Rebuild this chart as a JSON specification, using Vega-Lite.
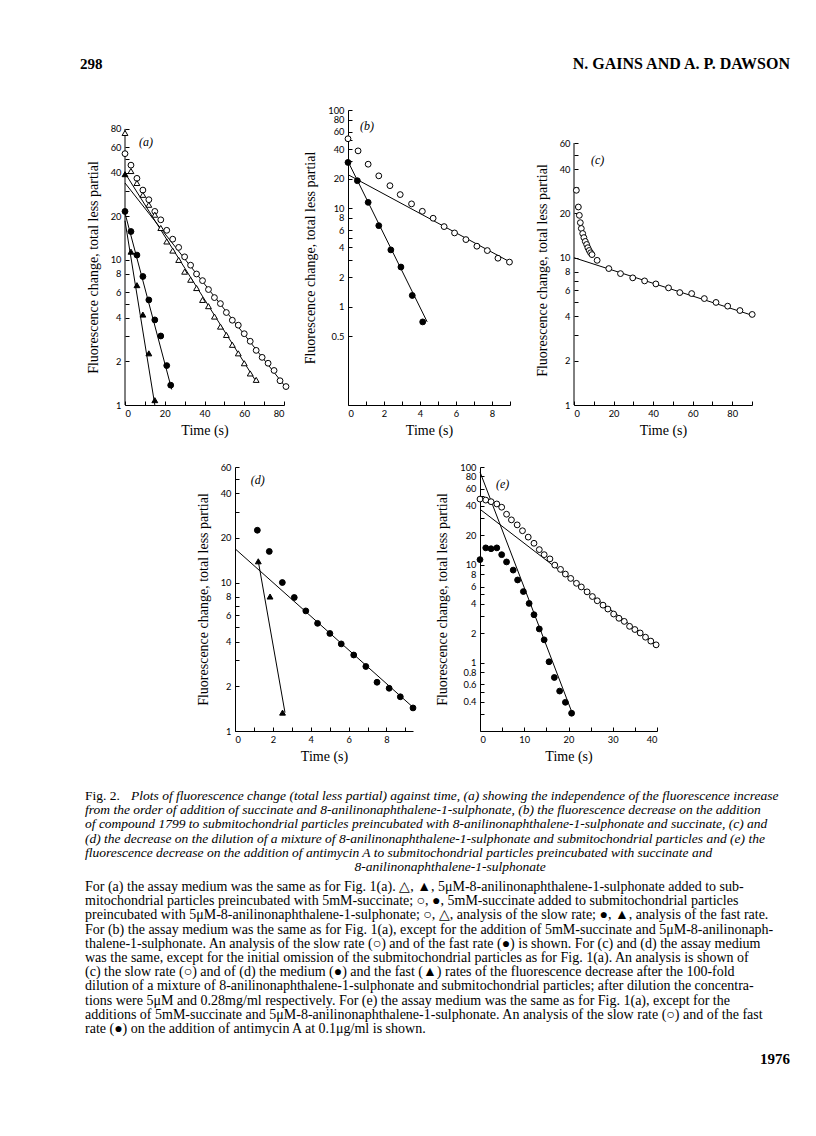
{
  "$schema": "https://vega.github.io/schema/vega-lite/v6.json",
  "background": "white",
  "padding": {"left": 80, "top": 46, "right": 10, "bottom": 10},
  "spacing": 25,
  "config": {
    "view": {"stroke": null},
    "axis": {
      "grid": false,
      "domainColor": "black",
      "domainWidth": 1,
      "tickColor": "black",
      "tickWidth": 1,
      "tickSize": -4,
      "labelPadding": 8,
      "labelOverlap": false,
      "labelColor": "black",
      "labelFont": "Lato",
      "labelFontSize": 9.3,
      "titleColor": "black",
      "titleFont": "Liberation Serif",
      "titleFontSize": 14,
      "titleFontWeight": "normal"
    },
    "axisX": {"titlePadding": 5},
    "axisY": {"titlePadding": 10}
  },
  "datasets": {
    "header_left": [{"text": "298"}],
    "header_right": [{"text": "N. GAINS AND A. P. DAWSON"}],
    "a_axis": [{"t": 0, "f": 1, "f2": 80}],
    "a_lab": [{"t": 7, "f": 65, "label": "(a)"}],
    "a_fit": [
      {"fit": "slow circle", "t": 0, "f": 33.9}, {"fit": "slow circle", "t": 81, "f": 1.32},
      {"fit": "slow triangle", "t": 0, "f": 39.7}, {"fit": "slow triangle", "t": 66, "f": 1.45},
      {"fit": "fast circle", "t": 0, "f": 21}, {"fit": "fast circle", "t": 23.5, "f": 1.28},
      {"fit": "fast triangle", "t": 0, "f": 18.6}, {"fit": "fast triangle", "t": 15, "f": 1.0}
    ],
    "a_pts": [
      {"sym": "open circle", "t": 0, "f": 54}, {"sym": "open circle", "t": 3, "f": 45}, {"sym": "open circle", "t": 6, "f": 36.5},
      {"sym": "open circle", "t": 9, "f": 30.3}, {"sym": "open circle", "t": 12, "f": 26}, {"sym": "open circle", "t": 15, "f": 21.6},
      {"sym": "open circle", "t": 18, "f": 18.9}, {"sym": "open circle", "t": 21, "f": 16}, {"sym": "open circle", "t": 24, "f": 13.9},
      {"sym": "open circle", "t": 27, "f": 12.2}, {"sym": "open circle", "t": 30, "f": 10.5}, {"sym": "open circle", "t": 33, "f": 9.2},
      {"sym": "open circle", "t": 36, "f": 8}, {"sym": "open circle", "t": 39, "f": 7.2}, {"sym": "open circle", "t": 42, "f": 6.25},
      {"sym": "open circle", "t": 45, "f": 5.5}, {"sym": "open circle", "t": 48, "f": 5.0}, {"sym": "open circle", "t": 51, "f": 4.34},
      {"sym": "open circle", "t": 54, "f": 3.84}, {"sym": "open circle", "t": 57, "f": 3.55}, {"sym": "open circle", "t": 60, "f": 3.1},
      {"sym": "open circle", "t": 63, "f": 2.75}, {"sym": "open circle", "t": 66, "f": 2.38}, {"sym": "open circle", "t": 69, "f": 2.13},
      {"sym": "open circle", "t": 72, "f": 1.94}, {"sym": "open circle", "t": 75, "f": 1.73}, {"sym": "open circle", "t": 78, "f": 1.47},
      {"sym": "open circle", "t": 81, "f": 1.34},
      {"sym": "open triangle", "t": 0, "f": 75}, {"sym": "open triangle", "t": 3, "f": 41}, {"sym": "open triangle", "t": 6, "f": 33.9},
      {"sym": "open triangle", "t": 9, "f": 28.1}, {"sym": "open triangle", "t": 12, "f": 24}, {"sym": "open triangle", "t": 15, "f": 20.5},
      {"sym": "open triangle", "t": 18, "f": 16.6}, {"sym": "open triangle", "t": 21, "f": 13.4}, {"sym": "open triangle", "t": 24, "f": 11.6},
      {"sym": "open triangle", "t": 27, "f": 10}, {"sym": "open triangle", "t": 30, "f": 8.3}, {"sym": "open triangle", "t": 33, "f": 7.3},
      {"sym": "open triangle", "t": 36, "f": 6.4}, {"sym": "open triangle", "t": 39, "f": 5.3}, {"sym": "open triangle", "t": 42, "f": 4.8},
      {"sym": "open triangle", "t": 45, "f": 4.07}, {"sym": "open triangle", "t": 48, "f": 3.47}, {"sym": "open triangle", "t": 51, "f": 3.04},
      {"sym": "open triangle", "t": 54, "f": 2.6}, {"sym": "open triangle", "t": 57, "f": 2.27}, {"sym": "open triangle", "t": 60, "f": 1.94},
      {"sym": "open triangle", "t": 63, "f": 1.65}, {"sym": "open triangle", "t": 66, "f": 1.49},
      {"sym": "filled circle", "t": 0, "f": 21.6}, {"sym": "filled circle", "t": 3, "f": 15.7}, {"sym": "filled circle", "t": 6, "f": 10.8},
      {"sym": "filled circle", "t": 9, "f": 7.69}, {"sym": "filled circle", "t": 12, "f": 5.3}, {"sym": "filled circle", "t": 15, "f": 3.86},
      {"sym": "filled circle", "t": 18, "f": 2.99}, {"sym": "filled circle", "t": 21, "f": 1.87}, {"sym": "filled circle", "t": 23, "f": 1.37},
      {"sym": "filled triangle", "t": 0, "f": 39}, {"sym": "filled triangle", "t": 3, "f": 11.4}, {"sym": "filled triangle", "t": 6, "f": 6.7},
      {"sym": "filled triangle", "t": 9, "f": 4.2}, {"sym": "filled triangle", "t": 12, "f": 2.27}, {"sym": "filled triangle", "t": 15, "f": 1.08}
    ],
    "b_lab": [{"t": 0.67, "f": 68, "label": "(b)"}],
    "b_fit": [
      {"fit": "slow", "t": 0, "f": 22}, {"fit": "slow", "t": 9, "f": 2.85},
      {"fit": "fast", "t": 0, "f": 30}, {"fit": "fast", "t": 4.4, "f": 0.7}
    ],
    "b_pts": [
      {"sym": "open circle", "t": 0, "f": 51}, {"sym": "open circle", "t": 0.56, "f": 38.4}, {"sym": "open circle", "t": 1.12, "f": 28.1},
      {"sym": "open circle", "t": 1.71, "f": 21.4}, {"sym": "open circle", "t": 2.33, "f": 17}, {"sym": "open circle", "t": 2.9, "f": 13.8},
      {"sym": "open circle", "t": 3.53, "f": 11.1}, {"sym": "open circle", "t": 4.13, "f": 9.33}, {"sym": "open circle", "t": 4.73, "f": 7.93},
      {"sym": "open circle", "t": 5.34, "f": 6.52}, {"sym": "open circle", "t": 5.92, "f": 5.62}, {"sym": "open circle", "t": 6.55, "f": 4.81},
      {"sym": "open circle", "t": 7.16, "f": 4.12}, {"sym": "open circle", "t": 7.74, "f": 3.72}, {"sym": "open circle", "t": 8.33, "f": 3.11},
      {"sym": "open circle", "t": 8.97, "f": 2.84},
      {"sym": "filled circle", "t": 0, "f": 29.3}, {"sym": "filled circle", "t": 0.52, "f": 19.1}, {"sym": "filled circle", "t": 1.12, "f": 11.5},
      {"sym": "filled circle", "t": 1.71, "f": 6.67}, {"sym": "filled circle", "t": 2.38, "f": 3.78}, {"sym": "filled circle", "t": 2.94, "f": 2.53},
      {"sym": "filled circle", "t": 3.57, "f": 1.3}, {"sym": "filled circle", "t": 4.15, "f": 0.7}
    ],
    "c_axis": [{"t": 0, "f": 1, "f2": 60}],
    "c_lab": [{"t": 8.6, "f": 45.8, "label": "(c)"}],
    "c_fit": [{"fit": "slow", "t": 0, "f": 10}, {"fit": "slow", "t": 90, "f": 4.07}],
    "c_pts": [
      {"sym": "open circle", "t": 1.2, "f": 28.7}, {"sym": "open circle", "t": 2.2, "f": 22.1}, {"sym": "open circle", "t": 2.7, "f": 19.4},
      {"sym": "open circle", "t": 3.2, "f": 17.3}, {"sym": "open circle", "t": 3.7, "f": 15.8}, {"sym": "open circle", "t": 4.4, "f": 14.6},
      {"sym": "open circle", "t": 5.0, "f": 13.7}, {"sym": "open circle", "t": 5.7, "f": 12.9}, {"sym": "open circle", "t": 6.4, "f": 12.3},
      {"sym": "open circle", "t": 7.0, "f": 11.7}, {"sym": "open circle", "t": 7.7, "f": 11.2}, {"sym": "open circle", "t": 8.4, "f": 10.8},
      {"sym": "open circle", "t": 9.1, "f": 10.5}, {"sym": "open circle", "t": 11.7, "f": 9.6}, {"sym": "open circle", "t": 17.6, "f": 8.44},
      {"sym": "open circle", "t": 23.5, "f": 7.8}, {"sym": "open circle", "t": 29.7, "f": 7.3}, {"sym": "open circle", "t": 35.7, "f": 6.96},
      {"sym": "open circle", "t": 41.4, "f": 6.64}, {"sym": "open circle", "t": 47.8, "f": 6.24}, {"sym": "open circle", "t": 53.5, "f": 5.8},
      {"sym": "open circle", "t": 59.5, "f": 5.71}, {"sym": "open circle", "t": 65.9, "f": 5.28}, {"sym": "open circle", "t": 71.8, "f": 4.97},
      {"sym": "open circle", "t": 77.7, "f": 4.69}, {"sym": "open circle", "t": 83.9, "f": 4.38}, {"sym": "open circle", "t": 90.1, "f": 4.12}
    ],
    "d_lab": [{"t": 0.83, "f": 49, "label": "(d)"}],
    "d_fit": [
      {"fit": "medium", "t": 0, "f": 16.9}, {"fit": "medium", "t": 9.44, "f": 1.43},
      {"fit": "fast", "t": 1.23, "f": 13.9}, {"fit": "fast", "t": 2.64, "f": 1.33}
    ],
    "d_pts": [
      {"sym": "filled circle", "t": 1.18, "f": 22.5}, {"sym": "filled circle", "t": 1.81, "f": 16.2}, {"sym": "filled circle", "t": 2.5, "f": 10.0},
      {"sym": "filled circle", "t": 3.13, "f": 7.93}, {"sym": "filled circle", "t": 3.74, "f": 6.44}, {"sym": "filled circle", "t": 4.36, "f": 5.31},
      {"sym": "filled circle", "t": 5.01, "f": 4.54}, {"sym": "filled circle", "t": 5.61, "f": 3.86}, {"sym": "filled circle", "t": 6.27, "f": 3.25},
      {"sym": "filled circle", "t": 6.91, "f": 2.72}, {"sym": "filled circle", "t": 7.5, "f": 2.13}, {"sym": "filled circle", "t": 8.14, "f": 1.94},
      {"sym": "filled circle", "t": 8.73, "f": 1.7}, {"sym": "filled circle", "t": 9.4, "f": 1.43},
      {"sym": "filled triangle", "t": 1.23, "f": 13.9}, {"sym": "filled triangle", "t": 1.85, "f": 8.05}, {"sym": "filled triangle", "t": 2.51, "f": 1.33}
    ],
    "e_lab": [{"t": 3.6, "f": 67, "label": "(e)"}],
    "e_fit": [
      {"fit": "slow", "t": 0, "f": 37}, {"fit": "slow", "t": 40, "f": 1.5},
      {"fit": "fast", "t": 0, "f": 89}, {"fit": "fast", "t": 20.9, "f": 0.3}
    ],
    "e_pts": [
      {"sym": "open circle", "t": 0, "f": 47}, {"sym": "open circle", "t": 1.3, "f": 45.9}, {"sym": "open circle", "t": 2.5, "f": 44.2},
      {"sym": "open circle", "t": 3.8, "f": 41.9}, {"sym": "open circle", "t": 4.9, "f": 38.8}, {"sym": "open circle", "t": 6.0, "f": 32.9},
      {"sym": "open circle", "t": 7.1, "f": 28.8}, {"sym": "open circle", "t": 8.4, "f": 25.6}, {"sym": "open circle", "t": 9.6, "f": 22.3},
      {"sym": "open circle", "t": 10.9, "f": 19.2}, {"sym": "open circle", "t": 12.2, "f": 16.6}, {"sym": "open circle", "t": 13.4, "f": 14.3},
      {"sym": "open circle", "t": 14.5, "f": 12.7}, {"sym": "open circle", "t": 15.8, "f": 11.5}, {"sym": "open circle", "t": 16.9, "f": 9.93},
      {"sym": "open circle", "t": 18.2, "f": 8.98}, {"sym": "open circle", "t": 19.3, "f": 8.04}, {"sym": "open circle", "t": 20.5, "f": 7.26},
      {"sym": "open circle", "t": 21.8, "f": 6.47}, {"sym": "open circle", "t": 22.9, "f": 5.94}, {"sym": "open circle", "t": 24.2, "f": 5.29},
      {"sym": "open circle", "t": 25.4, "f": 4.74}, {"sym": "open circle", "t": 26.5, "f": 4.29}, {"sym": "open circle", "t": 27.8, "f": 3.87},
      {"sym": "open circle", "t": 28.9, "f": 3.53}, {"sym": "open circle", "t": 30.2, "f": 3.14}, {"sym": "open circle", "t": 31.4, "f": 2.84},
      {"sym": "open circle", "t": 32.6, "f": 2.64}, {"sym": "open circle", "t": 33.8, "f": 2.35}, {"sym": "open circle", "t": 35.0, "f": 2.18},
      {"sym": "open circle", "t": 36.2, "f": 2.01}, {"sym": "open circle", "t": 37.4, "f": 1.82}, {"sym": "open circle", "t": 38.6, "f": 1.66},
      {"sym": "open circle", "t": 39.8, "f": 1.52},
      {"sym": "filled circle", "t": 0, "f": 11.3}, {"sym": "filled circle", "t": 1.3, "f": 14.9}, {"sym": "filled circle", "t": 2.5, "f": 14.6},
      {"sym": "filled circle", "t": 3.8, "f": 14.9}, {"sym": "filled circle", "t": 4.9, "f": 12.7}, {"sym": "filled circle", "t": 6.0, "f": 10.7},
      {"sym": "filled circle", "t": 7.5, "f": 8.83}, {"sym": "filled circle", "t": 8.5, "f": 7.0}, {"sym": "filled circle", "t": 9.8, "f": 5.33},
      {"sym": "filled circle", "t": 11.1, "f": 4.03}, {"sym": "filled circle", "t": 12.2, "f": 3.09}, {"sym": "filled circle", "t": 13.4, "f": 2.21},
      {"sym": "filled circle", "t": 14.5, "f": 1.71}, {"sym": "filled circle", "t": 15.6, "f": 1.02}, {"sym": "filled circle", "t": 16.8, "f": 0.705},
      {"sym": "filled circle", "t": 18.0, "f": 0.512}, {"sym": "filled circle", "t": 19.3, "f": 0.393}, {"sym": "filled circle", "t": 20.7, "f": 0.304}
    ],
    "caption_fig": [{"line": 0, "text": "Fig. 2."}],
    "caption_first": [{"line": 0, "text": "Plots of fluorescence change (total less partial) against time, (a) showing the independence of the fluorescence increase"}],
    "caption_lines": [
      {"line": 1, "text": "from the order of addition of succinate and 8-anilinonaphthalene-1-sulphonate, (b) the fluorescence decrease on the addition"},
      {"line": 2, "text": "of compound 1799 to submitochondrial particles preincubated with 8-anilinonaphthalene-1-sulphonate and succinate, (c) and"},
      {"line": 3, "text": "(d) the decrease on the dilution of a mixture of 8-anilinonaphthalene-1-sulphonate and submitochondrial particles and (e) the"},
      {"line": 4, "text": "fluorescence decrease on the addition of antimycin A to submitochondrial particles preincubated with succinate and"}
    ],
    "caption_center": [{"line": 5, "text": "8-anilinonaphthalene-1-sulphonate"}],
    "body": [
      {"line": 0, "text": "For (a) the assay medium was the same as for Fig. 1(a). △, ▲, 5μM-8-anilinonaphthalene-1-sulphonate added to sub-"},
      {"line": 1, "text": "mitochondrial particles preincubated with 5mM-succinate; ○, ●, 5mM-succinate added to submitochondrial particles"},
      {"line": 2, "text": "preincubated with 5μM-8-anilinonaphthalene-1-sulphonate; ○, △, analysis of the slow rate; ●, ▲, analysis of the fast rate."},
      {"line": 3, "text": "For (b) the assay medium was the same as for Fig. 1(a), except for the addition of 5mM-succinate and 5μM-8-anilinonaph-"},
      {"line": 4, "text": "thalene-1-sulphonate. An analysis of the slow rate (○) and of the fast rate (●) is shown. For (c) and (d) the assay medium"},
      {"line": 5, "text": "was the same, except for the initial omission of the submitochondrial particles as for Fig. 1(a). An analysis is shown of"},
      {"line": 6, "text": "(c) the slow rate (○) and of (d) the medium (●) and the fast (▲) rates of the fluorescence decrease after the 100-fold"},
      {"line": 7, "text": "dilution of a mixture of 8-anilinonaphthalene-1-sulphonate and submitochondrial particles; after dilution the concentra-"},
      {"line": 8, "text": "tions were 5μM and 0.28mg/ml respectively. For (e) the assay medium was the same as for Fig. 1(a), except for the"},
      {"line": 9, "text": "additions of 5mM-succinate and 5μM-8-anilinonaphthalene-1-sulphonate. An analysis of the slow rate (○) and of the fast"},
      {"line": 10, "text": "rate (●) on the addition of antimycin A at 0.1μg/ml is shown."}
    ],
    "footer": [{"text": "1976"}]
  },
  "vconcat": [
    {
      "width": 665,
      "height": 35,
      "layer": [
        {
          "data": {"name": "header_left"},
          "mark": {"type": "text", "align": "left", "dx": -45, "font": "Liberation Serif", "fontWeight": "bold", "fontSize": 15, "color": "black"},
          "encoding": {
            "x": {"datum": 0, "type": "quantitative", "scale": {"domain": [0, 1]}, "axis": null},
            "text": {"field": "text"}
          }
        },
        {
          "data": {"name": "header_right"},
          "mark": {"type": "text", "align": "right", "font": "Liberation Serif", "fontWeight": "bold", "fontSize": 16, "color": "black"},
          "encoding": {
            "x": {"datum": 1, "type": "quantitative", "scale": {"domain": [0, 1]}, "axis": null},
            "text": {"field": "text"}
          }
        }
      ]
    },
    {
      "hconcat": [
        {
          "width": 159,
          "height": 295,
          "encoding": {
            "x": {"field": "t", "type": "quantitative", "scale": {"domain": [0, 80], "nice": false, "zero": false},
              "axis": {"title": "Time (s)", "values": [0, 10, 20, 30, 40, 50, 60, 70, 80], "labelExpr": "datum.value % 20 == 0 ? datum.label : ''"}},
            "y": {"field": "f", "type": "quantitative", "scale": {"type": "log", "domain": [1, 108], "nice": false},
              "axis": {"title": "Fluorescence change, total less partial", "domain": false, "titleY": 157,
                "values": [1, 2, 3, 4, 5, 6, 8, 10, 20, 30, 40, 50, 60, 80],
                "labelExpr": "indexof([1,2,4,6,8,10,20,40,60,80], datum.value) >= 0 ? format(datum.value, '~g') : ''"}}
          },
          "layer": [
            {"data": {"name": "a_axis"}, "mark": {"type": "rule", "color": "black", "strokeWidth": 1}, "encoding": {"y2": {"field": "f2"}}},
            {"data": {"name": "a_fit"}, "mark": {"type": "line", "color": "black", "strokeWidth": 1}, "encoding": {"detail": {"field": "fit"}}},
            {"data": {"name": "a_pts"}, "mark": {"type": "point", "filled": true, "stroke": "black", "strokeWidth": 1, "size": 34, "opacity": 1},
              "encoding": {
                "shape": {"field": "sym", "type": "nominal", "scale": {"domain": ["open circle", "filled circle", "open triangle", "filled triangle"], "range": ["circle", "circle", "triangle-up", "triangle-up"]}, "legend": null},
                "fill": {"field": "sym", "type": "nominal", "scale": {"domain": ["open circle", "filled circle", "open triangle", "filled triangle"], "range": ["white", "black", "white", "black"]}, "legend": null}
              }},
            {"data": {"name": "a_lab"}, "mark": {"type": "text", "align": "left", "font": "Liberation Serif", "fontStyle": "italic", "fontSize": 12, "color": "black"}, "encoding": {"text": {"field": "label"}}}
          ]
        },
        {
          "width": 162,
          "height": 295,
          "encoding": {
            "x": {"field": "t", "type": "quantitative", "scale": {"domain": [0, 9], "nice": false, "zero": false},
              "axis": {"title": "Time (s)", "values": [0, 1, 2, 3, 4, 5, 6, 7, 8, 9], "labelExpr": "datum.value % 2 == 0 && datum.value < 9 ? datum.label : ''"}},
            "y": {"field": "f", "type": "quantitative", "scale": {"type": "log", "domain": [0.1, 100], "nice": false},
              "axis": {"title": "Fluorescence change, total less partial",
                "values": [0.5, 1, 2, 3, 4, 5, 6, 8, 10, 20, 30, 40, 50, 60, 80, 100],
                "labelExpr": "indexof([0.5,1,2,4,6,8,10,20,40,60,80,100], datum.value) >= 0 ? format(datum.value, '~g') : ''"}}
          },
          "layer": [
            {"data": {"name": "b_fit"}, "mark": {"type": "line", "color": "black", "strokeWidth": 1}, "encoding": {"detail": {"field": "fit"}}},
            {"data": {"name": "b_pts"}, "mark": {"type": "point", "filled": true, "stroke": "black", "strokeWidth": 1, "size": 34, "opacity": 1},
              "encoding": {
                "shape": {"field": "sym", "type": "nominal", "scale": {"domain": ["open circle", "filled circle", "open triangle", "filled triangle"], "range": ["circle", "circle", "triangle-up", "triangle-up"]}, "legend": null},
                "fill": {"field": "sym", "type": "nominal", "scale": {"domain": ["open circle", "filled circle", "open triangle", "filled triangle"], "range": ["white", "black", "white", "black"]}, "legend": null}
              }},
            {"data": {"name": "b_lab"}, "mark": {"type": "text", "align": "left", "font": "Liberation Serif", "fontStyle": "italic", "fontSize": 12, "color": "black"}, "encoding": {"text": {"field": "label"}}}
          ]
        },
        {
          "width": 178,
          "height": 295,
          "encoding": {
            "x": {"field": "t", "type": "quantitative", "scale": {"domain": [0, 90], "nice": false, "zero": false},
              "axis": {"title": "Time (s)", "values": [0, 10, 20, 30, 40, 50, 60, 70, 80, 90], "labelExpr": "datum.value % 20 == 0 ? datum.label : ''"}},
            "y": {"field": "f", "type": "quantitative", "scale": {"type": "log", "domain": [1, 100.7], "nice": false},
              "axis": {"title": "Fluorescence change, total less partial", "domain": false, "titleY": 160,
                "values": [1, 2, 3, 4, 5, 6, 7, 8, 10, 20, 30, 40, 50, 60],
                "labelExpr": "indexof([1,2,4,6,8,10,20,40,60], datum.value) >= 0 ? format(datum.value, '~g') : ''"}}
          },
          "layer": [
            {"data": {"name": "c_axis"}, "mark": {"type": "rule", "color": "black", "strokeWidth": 1}, "encoding": {"y2": {"field": "f2"}}},
            {"data": {"name": "c_fit"}, "mark": {"type": "line", "color": "black", "strokeWidth": 1}, "encoding": {"detail": {"field": "fit"}}},
            {"data": {"name": "c_pts"}, "mark": {"type": "point", "filled": true, "stroke": "black", "strokeWidth": 1, "size": 34, "opacity": 1},
              "encoding": {
                "shape": {"field": "sym", "type": "nominal", "scale": {"domain": ["open circle", "filled circle", "open triangle", "filled triangle"], "range": ["circle", "circle", "triangle-up", "triangle-up"]}, "legend": null},
                "fill": {"field": "sym", "type": "nominal", "scale": {"domain": ["open circle", "filled circle", "open triangle", "filled triangle"], "range": ["white", "black", "white", "black"]}, "legend": null}
              }},
            {"data": {"name": "c_lab"}, "mark": {"type": "text", "align": "left", "font": "Liberation Serif", "fontStyle": "italic", "fontSize": 12, "color": "black"}, "encoding": {"text": {"field": "label"}}}
          ]
        }
      ],
      "spacing": 64,
      "bounds": "flush",
      "resolve": {"scale": {"x": "independent", "y": "independent"}}
    },
    {
      "hconcat": [
        {
          "width": 43,
          "height": 264,
          "data": {"values": []},
          "mark": "point"
        },
        {
          "width": 178,
          "height": 264,
          "encoding": {
            "x": {"field": "t", "type": "quantitative", "scale": {"domain": [0, 9.4], "nice": false, "zero": false},
              "axis": {"title": "Time (s)", "values": [0, 1, 2, 3, 4, 5, 6, 7, 8, 9], "labelExpr": "datum.value % 2 == 0 ? datum.label : ''"}},
            "y": {"field": "f", "type": "quantitative", "scale": {"type": "log", "domain": [1, 60], "nice": false},
              "axis": {"title": "Fluorescence change, total less partial",
                "values": [1, 2, 3, 4, 5, 6, 7, 8, 10, 20, 30, 40, 50, 60],
                "labelExpr": "indexof([1,2,4,6,8,10,20,40,60], datum.value) >= 0 ? format(datum.value, '~g') : ''"}}
          },
          "layer": [
            {"data": {"name": "d_fit"}, "mark": {"type": "line", "color": "black", "strokeWidth": 1}, "encoding": {"detail": {"field": "fit"}}},
            {"data": {"name": "d_pts"}, "mark": {"type": "point", "filled": true, "stroke": "black", "strokeWidth": 1, "size": 34, "opacity": 1},
              "encoding": {
                "shape": {"field": "sym", "type": "nominal", "scale": {"domain": ["open circle", "filled circle", "open triangle", "filled triangle"], "range": ["circle", "circle", "triangle-up", "triangle-up"]}, "legend": null},
                "fill": {"field": "sym", "type": "nominal", "scale": {"domain": ["open circle", "filled circle", "open triangle", "filled triangle"], "range": ["white", "black", "white", "black"]}, "legend": null}
              }},
            {"data": {"name": "d_lab"}, "mark": {"type": "text", "align": "left", "font": "Liberation Serif", "fontStyle": "italic", "fontSize": 12, "color": "black"}, "encoding": {"text": {"field": "label"}}}
          ]
        },
        {
          "width": 177,
          "height": 264,
          "encoding": {
            "x": {"field": "t", "type": "quantitative", "scale": {"domain": [0, 40], "nice": false, "zero": false},
              "axis": {"title": "Time (s)", "values": [0, 5, 10, 15, 20, 25, 30, 35, 40], "labelExpr": "datum.value % 10 == 0 ? datum.label : ''"}},
            "y": {"field": "f", "type": "quantitative", "scale": {"type": "log", "domain": [0.2, 100], "nice": false},
              "axis": {"title": "Fluorescence change, total less partial",
                "values": [0.3, 0.4, 0.5, 0.6, 0.8, 1, 2, 3, 4, 5, 6, 8, 10, 20, 30, 40, 50, 60, 80, 100],
                "labelExpr": "indexof([0.4,0.6,0.8,1,2,4,6,8,10,20,40,60,80,100], datum.value) >= 0 ? format(datum.value, '~g') : ''"}}
          },
          "layer": [
            {"data": {"name": "e_fit"}, "mark": {"type": "line", "color": "black", "strokeWidth": 1}, "encoding": {"detail": {"field": "fit"}}},
            {"data": {"name": "e_pts"}, "mark": {"type": "point", "filled": true, "stroke": "black", "strokeWidth": 1, "size": 34, "opacity": 1},
              "encoding": {
                "shape": {"field": "sym", "type": "nominal", "scale": {"domain": ["open circle", "filled circle", "open triangle", "filled triangle"], "range": ["circle", "circle", "triangle-up", "triangle-up"]}, "legend": null},
                "fill": {"field": "sym", "type": "nominal", "scale": {"domain": ["open circle", "filled circle", "open triangle", "filled triangle"], "range": ["white", "black", "white", "black"]}, "legend": null}
              }},
            {"data": {"name": "e_lab"}, "mark": {"type": "text", "align": "left", "font": "Liberation Serif", "fontStyle": "italic", "fontSize": 12, "color": "black"}, "encoding": {"text": {"field": "label"}}}
          ]
        }
      ],
      "spacing": 67,
      "bounds": "flush",
      "resolve": {"scale": {"x": "independent", "y": "independent"}}
    },
    {
      "vconcat": [
        {
          "width": 665,
          "height": 71,
          "encoding": {
            "y": {"field": "line", "type": "quantitative", "scale": {"domain": [0, 5], "reverse": true, "nice": false, "zero": false}, "axis": null}
          },
          "layer": [
            {
              "data": {"name": "caption_fig"},
              "mark": {"type": "text", "align": "left", "dx": -40, "font": "Liberation Serif", "fontSize": 13.5, "color": "black"},
              "encoding": {"x": {"datum": 0, "type": "quantitative", "scale": {"domain": [0, 1]}, "axis": null}, "text": {"field": "text"}}
            },
            {
              "data": {"name": "caption_first"},
              "mark": {"type": "text", "align": "left", "dx": 6, "font": "Liberation Serif", "fontStyle": "italic", "fontSize": 13.5, "color": "black"},
              "encoding": {"x": {"datum": 0, "type": "quantitative", "scale": {"domain": [0, 1]}, "axis": null}, "text": {"field": "text"}}
            },
            {
              "data": {"name": "caption_lines"},
              "mark": {"type": "text", "align": "left", "dx": -40, "font": "Liberation Serif", "fontStyle": "italic", "fontSize": 13.5, "color": "black"},
              "encoding": {"x": {"datum": 0, "type": "quantitative", "scale": {"domain": [0, 1]}, "axis": null}, "text": {"field": "text"}}
            },
            {
              "data": {"name": "caption_center"},
              "mark": {"type": "text", "align": "center", "font": "Liberation Serif", "fontStyle": "italic", "fontSize": 13.5, "color": "black"},
              "encoding": {"x": {"datum": 0.489, "type": "quantitative", "scale": {"domain": [0, 1]}, "axis": null}, "text": {"field": "text"}}
            }
          ]
        },
        {
          "width": 665,
          "height": 142,
          "data": {"name": "body"},
          "mark": {"type": "text", "align": "left", "dx": -40, "font": "Liberation Serif", "fontSize": 14, "color": "black"},
          "encoding": {
            "x": {"datum": 0, "type": "quantitative", "scale": {"domain": [0, 1]}, "axis": null},
            "y": {"field": "line", "type": "quantitative", "scale": {"domain": [0, 10], "reverse": true, "nice": false, "zero": false}, "axis": null},
            "text": {"field": "text"}
          }
        },
        {
          "width": 665,
          "height": 34,
          "data": {"name": "footer"},
          "mark": {"type": "text", "align": "right", "font": "Liberation Serif", "fontWeight": "bold", "fontSize": 15, "color": "black"},
          "encoding": {
            "x": {"datum": 1, "type": "quantitative", "scale": {"domain": [0, 1]}, "axis": null},
            "text": {"field": "text"}
          }
        }
      ],
      "spacing": 6
    }
  ]
}
